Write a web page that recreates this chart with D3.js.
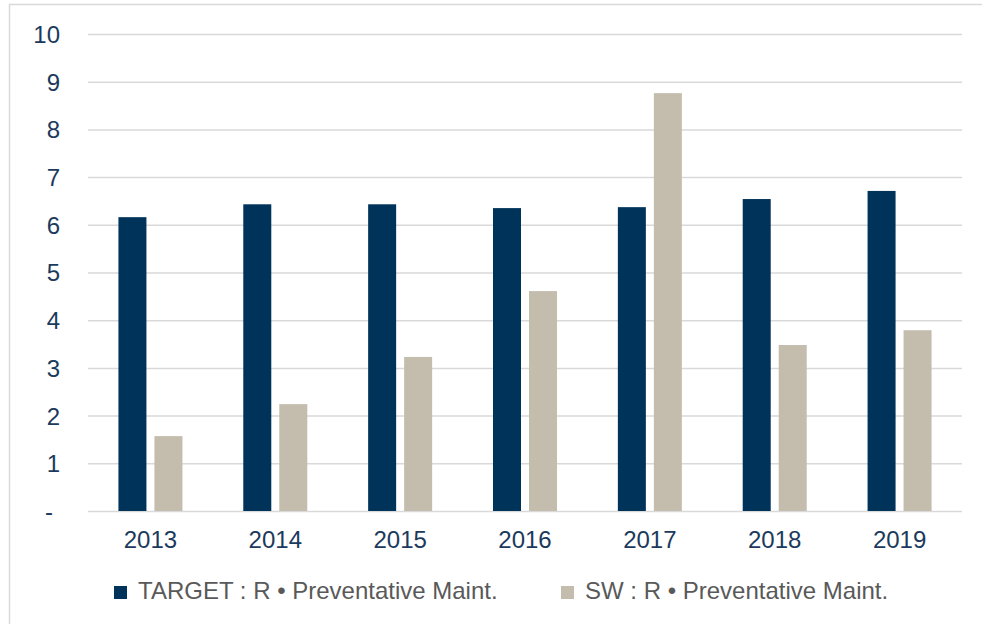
<!DOCTYPE html>
<html>
<head>
<meta charset="utf-8">
<script src="https://cdn.jsdelivr.net/npm/d3@7"></script>
<style>
  body { margin: 0; background: #fff; }
  svg text { font-family: "Liberation Sans", Arial, sans-serif; }
</style>
</head>
<body>
<script>
// chart data
var years = ["2013", "2014", "2015", "2016", "2017", "2018", "2019"];
var seriesNames = ["TARGET : R \u2022 Preventative Maint.", "SW : R \u2022 Preventative Maint."];
var targetValues = [6.16, 6.43, 6.43, 6.35, 6.37, 6.54, 6.71];
var swValues = [1.57, 2.24, 3.23, 4.61, 8.76, 3.48, 3.79];
var yTicks = [0, 1, 2, 3, 4, 5, 6, 7, 8, 9, 10];
var colors = ["#003359", "#C4BDAD"];

function drawChart()
{
    var width = 982,
        height = 624;

    var svg = d3.select("body").append("svg")
        .attr("width", width)
        .attr("height", height);

    // outer frame (right/bottom edges fall outside the picture)
    svg.append("rect")
        .attr("x", 9.5)
        .attr("y", 4.5)
        .attr("width", 990)
        .attr("height", 640)
        .attr("fill", "#fff")
        .attr("stroke", "#D9D9D9")
        .attr("stroke-width", 1.5);

    var left = 88, right = 962,
        top = 34, bottom = 511;

    var x = d3.scaleBand().domain(years).range([left, right]).padding(0);
    var x1 = d3.scaleBand().domain([0, 1]).range([0, 64]).paddingInner(8 / 36);
    var y = d3.scaleLinear().domain([0, 10]).range([bottom, top]);

    // gridlines + y labels
    var yAxis = d3.axisLeft(y)
        .tickValues(yTicks)
        .tickSize(-(right - left))
        .tickFormat(function(d) { return d === 0 ? "-" : d; });

    var gy = svg.append("g")
        .attr("transform", "translate(" + left + ",0)")
        .call(yAxis);
    gy.select(".domain").remove();
    gy.selectAll(".tick line")
        .attr("stroke", "#D9D9D9")
        .attr("stroke-width", 1.5);
    gy.selectAll(".tick text")
        .attr("fill", "#1B3A5C")
        .style("font-size", "24px")
        .attr("dy", "0.35em")
        .attr("x", function(d) { return d === 0 ? -35 : -28; });

    // bars
    var data = years.map(function(yr, i) {
        return { year: yr, vals: [targetValues[i], swValues[i]] };
    });

    var groups = svg.append("g").selectAll("g")
        .data(data)
        .enter().append("g")
        .attr("transform", function(d) {
            return "translate(" + (x(d.year) + x.bandwidth() / 2 - 32) + ",0)";
        });

    groups.selectAll("rect")
        .data(function(d) { return d.vals.map(function(v, k) { return { k: k, v: v }; }); })
        .enter().append("rect")
        .attr("x", function(d) { return x1(d.k); })
        .attr("width", x1.bandwidth())
        .attr("y", function(d) { return y(d.v); })
        .attr("height", function(d) { return bottom - y(d.v); })
        .attr("fill", function(d) { return colors[d.k]; });

    // x labels
    var xAxis = d3.axisBottom(x).tickSize(0).tickPadding(0);
    var gx = svg.append("g")
        .attr("transform", "translate(0," + bottom + ")")
        .call(xAxis);
    gx.select(".domain").remove();
    gx.selectAll(".tick text")
        .attr("fill", "#1B3A5C")
        .attr("y", 37)
        .attr("dy", 0)
        .style("font-size", "24px");

    // legend
    var legendX = [114, 561];
    var legend = svg.append("g").selectAll("g")
        .data(seriesNames)
        .enter().append("g")
        .attr("transform", function(d, i) { return "translate(" + legendX[i] + ",586)"; });

    legend.append("rect")
        .attr("width", 13)
        .attr("height", 13)
        .attr("fill", function(d, i) { return colors[i]; });

    legend.append("text")
        .attr("x", 24)
        .attr("y", 13)
        .attr("fill", "#595959")
        .style("font-size", "24px")
        .text(function(d) { return d; });
}

drawChart();
</script>
</body>
</html>
